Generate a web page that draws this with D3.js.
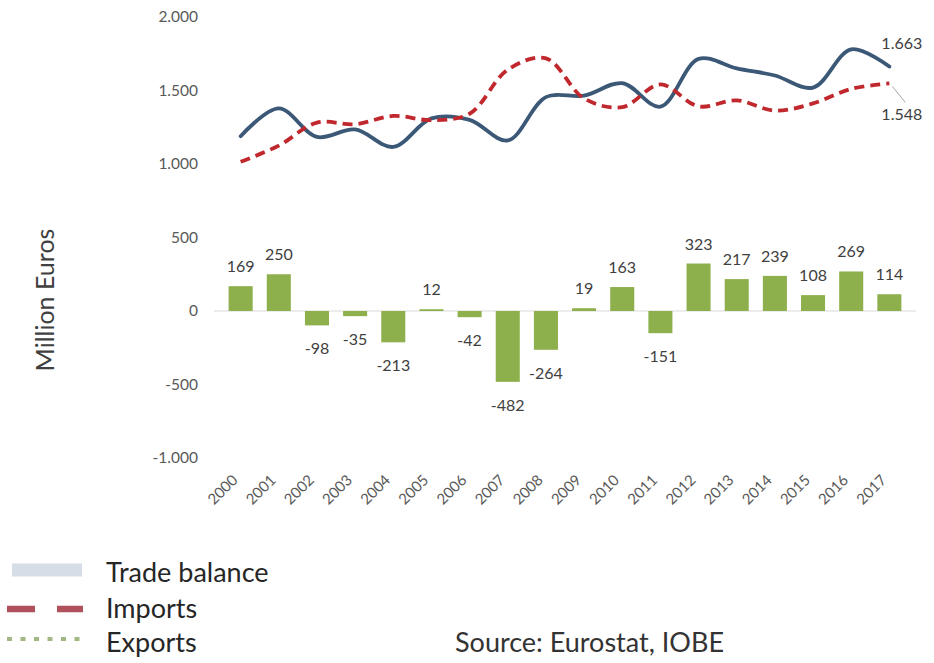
<!DOCTYPE html>
<html>
<head>
<meta charset="utf-8">
<script src="https://cdn.jsdelivr.net/npm/d3@7"></script>
<style>
  html, body { margin: 0; padding: 0; background: #fff; }
  svg { display: block; font-family: Lato, "Open Sans", sans-serif; }
</style>
</head>
<body>
<svg id="chart" width="934" height="663"></svg>
<script>
// ---- data ----
const years = ["2000","2001","2002","2003","2004","2005","2006","2007","2008","2009","2010","2011","2012","2013","2014","2015","2016","2017"];
const tradeBalance = [169, 250, -98, -35, -213, 12, -42, -482, -264, 19, 163, -151, 323, 217, 239, 108, 269, 114];
const exportsVals = [1189, 1378, 1184, 1235, 1116, 1310, 1300, 1160, 1455, 1465, 1550, 1390, 1715, 1650, 1602, 1520, 1780, 1663];
const importsVals = [1015, 1125, 1282, 1270, 1327, 1298, 1342, 1642, 1719, 1446, 1387, 1541, 1392, 1433, 1363, 1412, 1511, 1548];
const yTicks = [-1000, -500, 0, 500, 1000, 1500, 2000];
const legendItems = ["Trade balance", "Imports", "Exports"];
const sourceText = "Source: Eurostat, IOBE";
const yTitle = "Million Euros";

// ---- setup ----
const svg = d3.select("#chart");
const loc = d3.formatLocale({decimal: ",", thousands: ".", grouping: [3], currency: ["", ""], minus: "-"});
const fmt = loc.format(",d");

const x = d3.scaleBand().domain(years).range([214.5, 915.5]).padding(0.37);
const xc = d => x(d) + x.bandwidth() / 2;
const y = d3.scaleLinear().domain([-1000, 2000]).range([458, 17]);

const textCol = "#595959";

// y axis labels
const yAxis = d3.axisLeft(y).tickValues(yTicks).tickFormat(fmt).tickSize(0).tickPadding(0);
const ya = svg.append("g").attr("transform", "translate(198,0)").call(yAxis);
ya.select(".domain").remove();
ya.selectAll("text").attr("fill", textCol).style("font-size", "15.5px").style("font-family", "Lato, sans-serif");

// y title
svg.append("text")
  .attr("transform", "translate(54,300) rotate(-90)")
  .attr("text-anchor", "middle")
  .attr("fill", "#404040")
  .style("font-size", "25px")
  .text(yTitle);

// zero line
svg.append("line")
  .attr("x1", 214).attr("x2", 916)
  .attr("y1", y(0)).attr("y2", y(0))
  .attr("stroke", "#d9d9d9").attr("stroke-width", 1.2);

// bars
svg.append("g").selectAll("rect").data(years).join("rect")
  .attr("x", d => x(d))
  .attr("width", x.bandwidth())
  .attr("y", (d, i) => Math.min(y(tradeBalance[i]), y(0)))
  .attr("height", (d, i) => Math.abs(y(tradeBalance[i]) - y(0)))
  .attr("fill", "#8db04c");

// bar labels
svg.append("g").selectAll("text").data(years).join("text")
  .attr("x", d => xc(d))
  .attr("y", (d, i) => tradeBalance[i] >= 0 ? y(tradeBalance[i]) - 14 : y(tradeBalance[i]) + 29)
  .attr("text-anchor", "middle")
  .attr("fill", "#404040")
  .style("font-size", "16px")
  .text((d, i) => fmt(tradeBalance[i]));

// x axis labels
const xAxis = d3.axisBottom(x).tickSize(0).tickPadding(0);
const xa = svg.append("g").attr("transform", "translate(0,470)").call(xAxis);
xa.select(".domain").remove();
xa.selectAll("text")
  .attr("fill", textCol)
  .style("font-size", "15px")
  .style("font-family", "Lato, sans-serif")
  .attr("text-anchor", "end")
  .attr("dy", null)
  .attr("y", 0)
  .attr("transform", "translate(-2,11) rotate(-45)");

// lines
const line = d3.line().x((d, i) => xc(years[i])).y(d => y(d)).curve(d3.curveCatmullRom.alpha(0.5));

svg.append("path").datum(exportsVals)
  .attr("d", line)
  .attr("fill", "none")
  .attr("stroke", "#3b5877")
  .attr("stroke-width", 3.8)
  .attr("stroke-linecap", "round");

svg.append("path").datum(importsVals)
  .attr("d", line)
  .attr("fill", "none")
  .attr("stroke", "#c0282d")
  .attr("stroke-width", 3.8)
  .attr("stroke-dasharray", "10,6");

// end labels
const last = years.length - 1;
svg.append("text")
  .attr("x", xc(years[last]) - 8).attr("y", y(exportsVals[last]) - 18)
  .attr("fill", "#404040").style("font-size", "16px")
  .text(fmt(exportsVals[last]));
svg.append("line")
  .attr("x1", xc(years[last]) + 3).attr("y1", y(importsVals[last]) + 3)
  .attr("x2", xc(years[last]) + 16).attr("y2", y(importsVals[last]) + 19)
  .attr("stroke", "#a6a6a6").attr("stroke-width", 1);
svg.append("text")
  .attr("x", xc(years[last]) - 8).attr("y", y(importsVals[last]) + 37)
  .attr("fill", "#404040").style("font-size", "16px")
  .text(fmt(importsVals[last]));

// legend
const lg = svg.append("g");
const baselines = [582, 618, 652];
const mids = [570, 609, 639];
lg.append("rect").attr("x", 12).attr("y", mids[0] - 6.5).attr("width", 70).attr("height", 13).attr("fill", "#d6dde7");
lg.append("line").attr("x1", 7).attr("x2", 83).attr("y1", mids[1]).attr("y2", mids[1])
  .attr("stroke", "#b0505a").attr("stroke-width", 6.5).attr("stroke-dasharray", "28,22").attr("stroke-linecap", "butt");
lg.append("line").attr("x1", 7).attr("x2", 83).attr("y1", mids[2]).attr("y2", mids[2])
  .attr("stroke", "#a2b882").attr("stroke-width", 4).attr("stroke-dasharray", "5,8.5");
lg.selectAll("text.leg").data(legendItems).join("text")
  .attr("class", "leg")
  .attr("x", 106).attr("y", (d, i) => baselines[i])
  .attr("fill", "#262626")
  .style("font-size", "27px")
  .text(d => d);

svg.append("text")
  .attr("x", 455).attr("y", baselines[2])
  .attr("fill", "#333333")
  .style("font-size", "27px")
  .text(sourceText);
</script>
</body>
</html>
